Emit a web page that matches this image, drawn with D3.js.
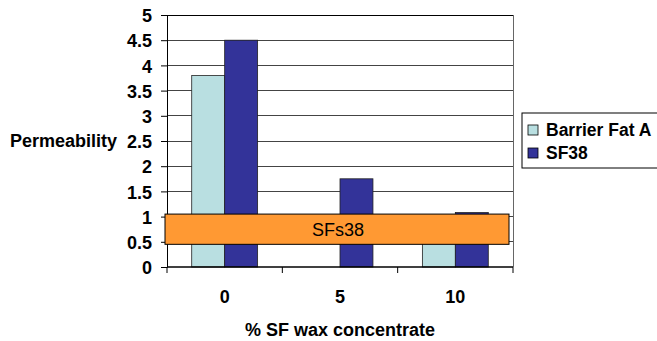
<!DOCTYPE html>
<html>
<head>
<meta charset="utf-8">
<script src="https://cdn.jsdelivr.net/npm/d3@7"></script>
<style>
  body { margin: 0; background: #fff; }
  text { font-family: "Liberation Sans", Arial, sans-serif; }
</style>
</head>
<body>
<div id="chart"></div>
<script>
// data
const categories = ["0", "5", "10"];
const seriesNames = ["Barrier Fat A", "SF38"];
const barrierFatA = [3.8, 0, 0.8];
const sf38 = [4.5, 1.75, 1.08];
const yTicks = [0, 0.5, 1, 1.5, 2, 2.5, 3, 3.5, 4, 4.5, 5];
const yTickLabels = ["0", "0.5", "1", "1.5", "2", "2.5", "3", "3.5", "4", "4.5", "5"];
const colors = ["#b9dfe1", "#333399"];
const note = { label: "SFs38", from: 0.45, to: 1.05 };

let width = 657, height = 341;
let margin = { top: 15, right: 144, bottom: 74, left: 167 };
let w = width - margin.left - margin.right;
let h = height - margin.top - margin.bottom;
let fontSize = 18;

let svg = d3.select("#chart").append("svg")
    .attr("width", width)
    .attr("height", height);
let g = svg.append("g")
    .attr("transform", "translate(" + margin.left + "," + margin.top + ")");

let x = d3.scaleBand().domain(categories).range([0, w]).padding(0);
let y = d3.scaleLinear().domain([0, 5]).range([h, 0]);
let barW = x.bandwidth() / (2 + 1.5);
let xs = d3.scaleBand().domain(seriesNames).range([barW * 0.75, barW * 2.75]);

// gridlines
g.selectAll(".grid")
  .data(yTicks.slice(1))
  .join("line")
    .attr("x1", 0).attr("x2", w)
    .attr("y1", d => y(d)).attr("y2", d => y(d))
    .attr("stroke", d => d == 5 ? "#000" : "#444")
    .attr("stroke-width", 1)
    .attr("shape-rendering", "crispEdges");

// right border
g.append("line")
    .attr("x1", w).attr("x2", w).attr("y1", 0).attr("y2", h)
    .attr("stroke", "#666").attr("shape-rendering", "crispEdges");

// bars
let rows = categories.map((c, i) => ({ cat: c, vals: [barrierFatA[i], sf38[i]] }));
let groups = g.selectAll(".grp")
  .data(rows)
  .join("g")
    .attr("transform", d => "translate(" + x(d.cat) + ",0)");
groups.selectAll("rect")
  .data(d => d.vals.map((v, k) => ({ name: seriesNames[k], v: v, k: k })).filter(d => d.v > 0))
  .join("rect")
    .attr("x", d => xs(d.name))
    .attr("width", xs.bandwidth())
    .attr("y", d => y(d.v))
    .attr("height", d => h - y(d.v))
    .attr("fill", d => colors[d.k])
    .attr("stroke", "#222")
    .attr("stroke-width", 0.8);

// axes
let yAxis = g.append("g")
  .call(d3.axisLeft(y).tickValues(yTicks).tickFormat((d, i) => yTickLabels[i]).tickSize(6).tickSizeOuter(0));
yAxis.select(".domain").attr("stroke", "#000");
yAxis.selectAll("text")
    .attr("font-size", fontSize).attr("font-weight", "bold").attr("fill", "#000")
    .attr("font-family", "Liberation Sans, Arial, sans-serif")
    .attr("x", -15)
    .attr("dy", "0.37em");

let xAxis = g.append("g").attr("transform", "translate(0," + h + ")");
xAxis.append("line").attr("x1", 0).attr("x2", w).attr("stroke", "#000").attr("stroke-width", 1.5);
xAxis.selectAll(".xt")
  .data([0, 1, 2, 3])
  .join("line")
    .attr("x1", d => d * x.step()).attr("x2", d => d * x.step())
    .attr("y1", 0).attr("y2", 6)
    .attr("stroke", "#000");
xAxis.selectAll(".xl")
  .data(categories)
  .join("text")
    .attr("x", d => x(d) + x.bandwidth() / 2)
    .attr("y", 36)
    .attr("text-anchor", "middle")
    .attr("font-size", fontSize).attr("font-weight", "bold")
    .text(d => d);

// axis titles
g.append("text")
    .attr("x", w / 2)
    .attr("y", h + 69)
    .attr("text-anchor", "middle")
    .attr("font-size", fontSize).attr("font-weight", "bold")
    .text("% SF wax concentrate");
g.append("text")
    .attr("x", -50)
    .attr("y", y(2.5) + 6)
    .attr("text-anchor", "end")
    .attr("font-size", fontSize).attr("font-weight", "bold")
    .text("Permeability");

// annotation box
let noteG = g.append("g");
noteG.append("rect")
    .attr("x", -2)
    .attr("width", w - 2)
    .attr("y", y(note.to))
    .attr("height", y(note.from) - y(note.to))
    .attr("fill", "#ff9933")
    .attr("stroke", "#000")
    .attr("stroke-width", 1);
noteG.append("text")
    .attr("x", w / 2 - 2)
    .attr("y", (y(note.to) + y(note.from)) / 2 + 7)
    .attr("text-anchor", "middle")
    .attr("font-size", fontSize)
    .text(note.label);

// legend
let legend = svg.append("g").attr("transform", "translate(522,113)");
legend.append("rect")
    .attr("width", 150).attr("height", 55)
    .attr("fill", "#fff").attr("stroke", "#000");
let li = legend.selectAll(".li")
  .data(seriesNames)
  .join("g")
    .attr("transform", (d, i) => "translate(6," + (17 + i * 23) + ")");
li.append("rect")
    .attr("x", 0).attr("y", -5)
    .attr("width", 10).attr("height", 10)
    .attr("fill", (d, i) => colors[i])
    .attr("stroke", "#000").attr("stroke-width", 0.8);
li.append("text")
    .attr("x", 18).attr("y", 6)
    .attr("font-size", 17.5).attr("font-weight", "bold")
    .text(d => d);
</script>
</body>
</html>
